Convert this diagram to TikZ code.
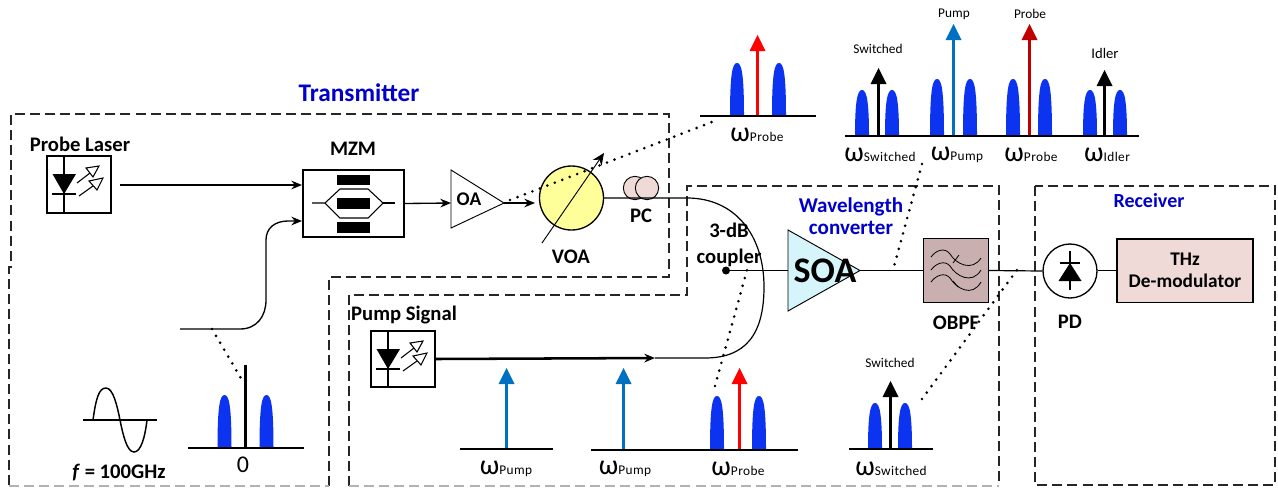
\documentclass[tikz,border=0pt]{standalone}
\usepackage{fontspec}
\setmainfont{Carlito}
\usetikzlibrary{arrows.meta,calc}
\definecolor{pulseblue}{HTML}{0B33F0}
\definecolor{pumpblue}{HTML}{0070C0}
\definecolor{titleblue}{HTML}{0000C8}
\definecolor{oafill}{HTML}{FFFF99}
\definecolor{pinkfill}{HTML}{F0DAD7}
\definecolor{obpffill}{HTML}{C9AFAF}
\definecolor{soafill}{HTML}{D5F5FA}
\newcommand{\fsz}[1]{\fontsize{#1}{#1}\selectfont}
\newcommand{\wlab}[1]{{\fsz{21}ω}{\fsz{10}\addfontfeature{LetterSpace=3}#1}}
\newcommand{\pulse}[3]{\fill[pulseblue] (#1-7,#2) .. controls (#1-7,#3+10) and (#1-4.5,#3) .. (#1,#3) .. controls (#1+4.5,#3) and (#1+7,#3+10) .. (#1+7,#2) -- cycle;}
\newcommand{\specarrow}[4]{\draw[specarr,draw=#1] (#2,#3) -- (#2,#4+15);\fill[#1] (#2,#4) -- (#2+8,#4+16) -- (#2-8,#4+16) -- cycle;}
\newcommand{\lasericon}[2]{\begin{scope}[shift={(#1,#2)}]
 \draw[thin1] (64,156) -- (64,213);
 \fill (52.5,174) -- (76,174) -- (64,194) -- cycle;
 \draw[thin1] (52,194) -- (76,194);
 \draw[thin1] (77,183) -- (90,173);
 \draw[thin1,fill=white] (86,168) -- (99,166) -- (93,177) -- cycle;
 \draw[thin1] (79,196) -- (93,186);
 \draw[thin1,fill=white] (89,181) -- (103,178) -- (97,190) -- cycle;
\end{scope}}
\tikzset{
 x=0.75pt,y=-0.75pt,
 thin1/.style={line width=0.8pt,black},
 fibre/.style={line width=0.9pt,black},
 fibrearr/.style={line width=1pt,black,-{Stealth[length=8pt,width=6.5pt]}},
 boxed/.style={draw,line width=1pt,inner sep=0pt},
 region/.style={line width=0.9pt,draw=black!85,dash pattern=on 7.5pt off 3.8pt},
 regionbottom/.style={line width=0.9pt,draw=black!30,dash pattern=on 7.5pt off 3.8pt},
 dots/.style={line width=2.2pt,line cap=round,dash pattern=on 0pt off 6pt},
 base/.style={line width=1pt,black},
 specarr/.style={line width=2.6pt},
 lab/.style={font=\fsz{15.5}\bfseries,inner sep=0pt},
 small/.style={font=\fsz{10},inner sep=0pt},
 wl/.style={inner sep=0pt},
 title/.style={font=\fsz{19}\bfseries,text=titleblue,inner sep=0pt,align=center},
}
\begin{document}
\begin{tikzpicture}
\useasboundingbox (0,0) rectangle (1278,487);
% regions
\draw[region] (329,486) -- (329,277) -- (669,277) -- (669,114) -- (11,114) -- (11,267) -- (9,267) -- (9,486);
\draw[regionbottom] (9,486) -- (329,486);
\draw[region] (349,486) -- (349,295) -- (687,295) -- (687,186) -- (999,186) -- (999,486);
\draw[regionbottom] (349,486) -- (999,486);
\draw[region] (1035,186) rectangle (1275,485);
% titles
\node[title] (ttx) at (359,93) {Transmitter};
\node[title,font=\fsz{15.8}\bfseries,align=center] (twc) at (851,216) {Wavelength\\[1pt]converter};
\node[title,font=\fsz{15}\bfseries] (trx) at (1149,201) {Receiver};
% boxes
\node[boxed,minimum width=48pt,minimum height=42.75pt] (laser) at (79,184.5) {};
\lasericon{0}{0}
\node[lab] (laserlab) at (80,144) {Probe Laser};
\node[boxed,minimum width=75.75pt,minimum height=50.25pt] (mzm) at (353.5,203.5) {};
\node[lab] (mzmlab) at (353,149) {MZM};
\fill (337,174.5) rectangle (370,185);
\fill (337,198) rectangle (370,209);
\fill (337,222) rectangle (370,233);
\draw[thin1] (312,203) -- (325,203) -- (340,189) -- (368,189) -- (383,203) -- (368,218) -- (340,218) -- (325,203);
\draw[thin1] (383,203) -- (395,203);
% OA
\draw[line width=0.7pt] (451,170) -- (504,203) -- (451,228) -- cycle;
\node[lab,font=\fsz{14.5}\bfseries] (oalab) at (469,199) {OA};
\coordinate (oatip) at (504,203);
% VOA
\node[boxed,circle,fill=oafill,minimum size=48pt] (voa) at (571.5,198) {};
\node[lab] (voalab) at (571,257) {VOA};
\coordinate (voaA) at (542,243);
\coordinate (voaB) at (604,153);
\draw[line width=0.7pt,-{Stealth[length=9pt,width=8pt]}] (voaA) -- (voaB);
% PC
\node[draw,line width=0.7pt,circle,fill=pinkfill,minimum size=17.5pt,inner sep=0pt] (pcA) at (635,188) {};
\node[draw,line width=0.7pt,circle,fill=pinkfill,minimum size=17.5pt,inner sep=0pt] (pcB) at (647,188) {};
\node[lab] (pclab) at (641,216) {PC};
% coupler
\node[lab,align=center] (cplab) at (729,245) {3-dB\\[3.5pt]coupler};
\node[circle,fill=black,minimum size=6pt,inner sep=0pt] (cp) at (726,270.5) {};
% SOA
\draw[line width=0.7pt,fill=soafill] (788,230) -- (860,270.5) -- (788,311) -- cycle;
\node[lab,font=\fsz{27}\bfseries] (soalab) at (825,271) {SOA};
\coordinate (soain) at (788,270.5);
\coordinate (soaout) at (860,270.5);
% OBPF
\node[boxed,line width=0.9pt,fill=obpffill,minimum width=48.5pt,minimum height=47.5pt] (obpf) at (956,270.5) {};
\draw[thin1,line width=0.6pt] (931,257) .. controls (936,250) and (945,247) .. (950,254) .. controls (956,264) and (972,272) .. (981,258);
\draw[thin1,line width=0.6pt] (931,270) .. controls (936,263) and (945,260) .. (950,266) .. controls (956,276) and (972,285) .. (981,270);
\draw[thin1,line width=0.6pt] (931,282) .. controls (936,275) and (945,272) .. (950,278) .. controls (956,288) and (972,298) .. (981,282);
\draw[thin1,line width=0.6pt] (953,263) -- (959,255);
\draw[thin1,line width=0.6pt] (953,281) -- (958,287);
\node[lab] (obpflab) at (956,323) {OBPF};
% PD
\node[boxed,circle,fill=white,minimum size=40.5pt] (pd) at (1070,271) {};
\draw[thin1] (1070,251) -- (1070,290);
\draw[thin1] (1060,263) -- (1080,263);
\fill (1070,263) -- (1081.5,281) -- (1058.5,281) -- cycle;
\node[lab] (pdlab) at (1070,322) {PD};
% Demod
\node[boxed,fill=pinkfill,minimum width=102pt,minimum height=47.5pt,font=\fsz{14.5}\bfseries,align=center] (demod) at (1185,270.5) {THz\\[2pt]De-modulator};
% Pump laser
\node[boxed,minimum width=48pt,minimum height=42pt] (pump) at (403,359) {};
\lasericon{324}{175}
\node[lab] (pumplab) at (404,315) {Pump Signal};
% connectors
\coordinate (laserout) at (120,185);
\coordinate (mzmA) at (302,185);
\coordinate (mzmB) at (302,221);
\coordinate (rfstart) at (180,329);
\coordinate (oain) at (451,203);
\coordinate (voain) at (535,203);
\draw[fibrearr] (laserout) -- (mzmA);
\draw[fibrearr] (rfstart) -- (240,329) .. controls (257,329) and (266,316) .. (266,300) -- (266,240) .. controls (266,228) and (275,221) .. (288,221) -- (mzmB);
\draw[fibrearr] (mzm.east) -- (oain);
\draw[fibrearr] (oatip) -- (voain);
\coordinate (fibreA) at (687,198);
\coordinate (fibreB) at (655,358);
\draw[fibre] (voa.east) -- (fibreA) .. controls (735,198) and (764,235) .. (764,287) .. controls (764,335) and (745,358) .. (705,358) -- (fibreB);
\draw[line width=1.9pt,-{Stealth[length=8pt,width=6.5pt]}] (pump.east) -- (fibreB);
\draw[fibre] (cp) -- (soain);
\draw[fibre] (soaout) -- (obpf.west);
\draw[fibre] (obpf.east) -- (pd.west);
\draw[line width=1.1pt] (pd.east |- demod.west) -- (demod.west);
% sine
\draw[fibre] (83,420) -- (157,420);
\draw[line width=1.1pt] (93,420) .. controls (96,398) and (99,388) .. (106,388) .. controls (113,388) and (117,405) .. (120,420) .. controls (123,435) and (127,452) .. (134,452) .. controls (141,452) and (145,437) .. (147,420);
\node[lab] (flab) at (119,473) {\textit{f} = 100GHz};
% spectrum 0
\pulse{224.5}{448}{395}\pulse{266.5}{448}{395}
\draw[specarr] (245.5,365) -- (245.5,448);
\draw[base] (188,448) -- (304,448);
\node[font=\fsz{18},inner sep=0pt] (zero) at (243,465) {0};
% top probe spectrum
\pulse{737}{116}{63}\pulse{779}{116}{63}
\specarrow{red}{757.5}{116}{35}
\draw[base] (700,116) -- (816,116);
\node[wl] (w1) at (757,135) {\wlab{Probe}};
% top four-wave spectrum
\pulse{862}{136}{90}\pulse{892}{136}{90}
\pulse{937}{136}{79}\pulse{970}{136}{79}
\pulse{1013}{136}{79}\pulse{1045}{136}{79}
\pulse{1090}{136}{90}\pulse{1120}{136}{90}
\specarrow{black}{878.5}{136}{68}
\specarrow{pumpblue}{953.5}{136}{24}
\specarrow{red!75!black}{1029.5}{136}{24}
\specarrow{black}{1104.5}{136}{70}
\draw[base] (845,136) -- (1139,136);
\node[small] (s1) at (878,49) {Switched};
\node[small] (s2) at (954,14) {Pump};
\node[small] (s3) at (1030,14) {Probe};
\node[small,font=\fsz{11}] (s4) at (1105,53) {Idler};
\node[wl] (w2) at (880,155) {\wlab{Switched}};
\node[wl] (w3) at (957,155) {\wlab{Pump}};
\node[wl] (w4) at (1031,155) {\wlab{Probe}};
\node[wl] (w5) at (1107,155) {\wlab{Idler}};
% bottom spectra
\specarrow{pumpblue}{506.5}{449}{368}
\draw[base] (460,449) -- (553,449);
\node[wl] (w6) at (506,469) {\wlab{Pump}};
\specarrow{pumpblue}{623.5}{450}{368}
\draw[base] (591,450) -- (705,450);
\node[wl] (w7) at (625,469) {\wlab{Pump}};
\pulse{717}{450}{396}\pulse{759}{450}{396}
\specarrow{red}{739.5}{450}{368}
\draw[base] (682,450) -- (798,450);
\node[wl] (w8) at (738,469) {\wlab{Probe}};
\pulse{875}{449}{403}\pulse{905}{449}{403}
\specarrow{black}{890.5}{449}{381}
\draw[base] (849,449) -- (933,449);
\node[small] (s5) at (890,363) {Switched};
\node[wl] (w9) at (891,469) {\wlab{Switched}};
% dotted call-outs
\coordinate (d1a) at (212,329); \coordinate (d1b) at (242,380);
\coordinate (d2a) at (510,200); \coordinate (d2b) at (712,122);
\coordinate (d3a) at (715,386); \coordinate (d3b) at (747,270);
\coordinate (d4a) at (922,164); \coordinate (d4b) at (893,270);
\coordinate (d5a) at (922,399); \coordinate (d5b) at (1017,270);
\draw[dots] (d1a) -- (d1b);
\draw[dots] (d2a) -- (d2b);
\draw[dots] (d3a) -- (d3b);
\draw[dots] (d4a) -- (d4b);
\draw[dots] (d5a) -- (d5b);
\end{tikzpicture}
\end{document}
